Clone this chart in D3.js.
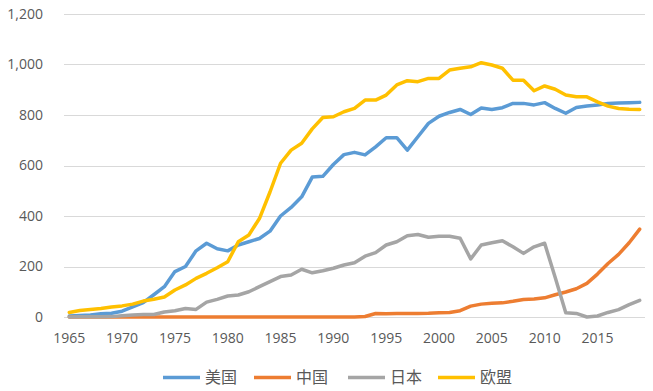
<!DOCTYPE html>
<html><head><meta charset="utf-8">
<script src="https://cdn.jsdelivr.net/npm/d3@7"></script>
<style>
html,body{margin:0;padding:0;background:#fff;}
svg{display:block;}
</style></head>
<body><svg id="c" width="653" height="391"></svg>
<script>
const years = d3.range(1965, 2020);
const yTicks = [0, 200, 400, 600, 800, 1000, 1200];
const xTickLabels = [1965, 1970, 1975, 1980, 1985, 1990, 1995, 2000, 2005, 2010, 2015];
const seriesNames = ["美国", "中国", "日本", "欧盟"];
const usa = [4,6,8,13,15,23,40,57,88,120,180,200,262,292,270,262,285,298,311,340,400,434,476,554,557,604,643,652,642,674,710,710,661,714,767,795,810,822,802,828,822,829,846,846,840,849,826,807,830,836,840,846,848,849,850];
const china = [0,0,0,0,0,0,0,0,0,0,0,0,0,0,0,0,0,0,0,0,0,0,0,0,0,0,0,0,2,14,13,14,14,14,15,17,18,25,43,51,54,56,62,69,71,76,88,99,112,133,170,212,248,294,348];
const japan = [0,0.5,1,1,1.5,4.6,8,9.5,10,20,25,34,30,59,70,83,87,100,120,140,160,166,189,175,183,193,206,215,241,255,285,298,322,327,316,320,320,312,230,285,294,302,278,252,278,292,156,17,14,0,4,18,29,49,66];
const eu = [18,26,30,34,40,44,51,63,70,79,107,127,153,173,195,219,298,325,390,495,609,661,688,745,790,793,813,826,859,859,879,919,936,932,945,945,978,985,991,1007,998,985,938,938,896,915,902,879,872,872,852,835,826,823,822];
const seriesValues = [usa, china, japan, eu];
const colors = ["#5B9BD5", "#ED7D31", "#A5A5A5", "#FFC000"];

const svg = d3.select("#c");
const x = d3.scaleBand().domain(years).range([64, 645]).paddingInner(0).paddingOuter(0);
const xc = d => x(d) + x.bandwidth() / 2;
const y = d3.scaleLinear().domain([0, 1200]).range([317, 14]);

// gridlines
svg.append("g").selectAll("line").data(yTicks).join("line")
  .attr("x1", 64).attr("x2", 645)
  .attr("y1", d => Math.round(y(d)) + 0.5).attr("y2", d => Math.round(y(d)) + 0.5)
  .attr("stroke", "#D9D9D9").attr("stroke-width", 1);

// y labels
const yAxis = d3.axisLeft(y).tickValues(yTicks).tickFormat(d3.format(",")).tickSize(0).tickPadding(0);
const gy = svg.append("g").attr("transform", "translate(43,0)").call(yAxis);
gy.select(".domain").remove();
gy.selectAll("text").attr("fill", "#595959").style("font-family", "'Open Sans', 'Liberation Sans', sans-serif").style("font-size", "14px");

// x labels
const xAxis = d3.axisBottom(x).tickValues(xTickLabels).tickSize(0).tickPadding(0);
const gx = svg.append("g").attr("transform", "translate(0,333)").call(xAxis);
gx.select(".domain").remove();
gx.selectAll("text").attr("fill", "#595959").style("font-family", "'Open Sans', 'Liberation Sans', sans-serif").style("font-size", "14px");

// lines
const line = d3.line().x((d, i) => xc(years[i])).y(d => y(d)).curve(d3.curveLinear);
seriesValues.forEach((vals, k) => {
  svg.append("path").datum(vals).attr("d", line)
    .attr("fill", "none").attr("stroke", colors[k]).attr("stroke-width", 3.5)
    .attr("stroke-linejoin", "round").attr("stroke-linecap", "round");
});

// legend
const legendX = [163, 254, 348, 438];
const lg = svg.append("g");
seriesNames.forEach((n, k) => {
  lg.append("line").attr("x1", legendX[k]).attr("x2", legendX[k] + 37)
    .attr("y1", 377.5).attr("y2", 377.5)
    .attr("stroke", colors[k]).attr("stroke-width", 3.5);
  lg.append("text").attr("x", legendX[k] + 42).attr("y", 383)
    .attr("fill", "#595959").style("font-family", "'Noto Sans CJK SC', sans-serif").style("font-size", "16px")
    .text(n);
});
</script>
</body></html>
